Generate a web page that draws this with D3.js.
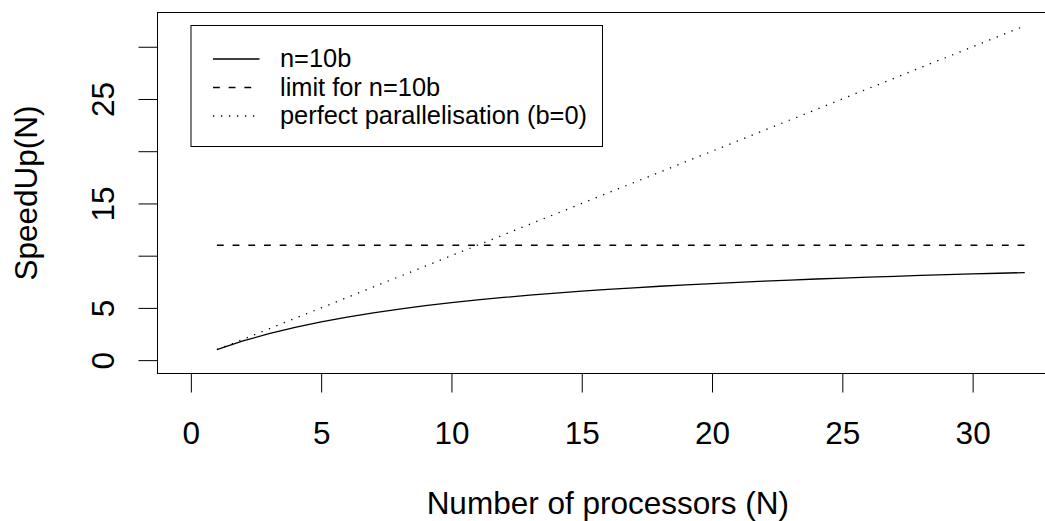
<!DOCTYPE html>
<html><head><meta charset="utf-8">
<script src="https://cdn.jsdelivr.net/npm/d3@7"></script>
<style>html,body{margin:0;padding:0;background:#fff;overflow:hidden}svg{display:block;font-family:"Liberation Sans",Arial,Helvetica,sans-serif}</style>
</head><body><svg id="c" width="1045" height="521"></svg>
<script>
// ---- data ----
const processors = [1,2,3,4,5,6,7,8,9,10,11,12,13,14,15,16,17,18,19,20,21,22,23,24,25,26,27,28,29,30,31,32];
const speedup = [1.000,1.833,2.538,3.143,3.667,4.125,4.529,4.889,5.211,5.500,5.762,6.000,6.217,6.417,6.600,6.769,
                 6.926,7.071,7.207,7.333,7.452,7.563,7.667,7.765,7.857,7.944,8.027,8.105,8.179,8.250,8.317,8.381];
const limitValue = [11,11];
const limitRange = [1,32];
const perfect = [1,2,3,4,5,6,7,8,9,10,11,12,13,14,15,16,17,18,19,20,21,22,23,24,25,26,27,28,29,30,31,32];
const xTickValues = [0,5,10,15,20,25,30];
const yTickValues = [0,5,10,15,20,25,30];
const yTickLabels = ["0","5","","15","","25",""];
const legendLabels = ["n=10b","limit for n=10b","perfect parallelisation (b=0)"];
const xTitle = "Number of processors (N)";
const yTitle = "SpeedUp(N)";

// ---- layout ----
const svg = d3.select("#c");
const L = 157.5, R = 1058.1, T = 12.5, B = 373.5;
const x = d3.scaleLinear().domain([-1.28, 33.28]).range([L, R]);
const y = d3.scaleLinear().domain([-1.28, 33.28]).range([B, T]);
const tickFont = 31.5, titleFont = 31.5, legendFont = 25.4;
const dashed = "6.8,8.9", dotted = "1.3,6.7";

// box
svg.append("rect").attr("x", L).attr("y", T).attr("width", R - L).attr("height", B - T)
  .attr("fill", "none").attr("stroke", "#000").attr("stroke-width", 1);

// x axis
const gx = svg.append("g").attr("transform", `translate(0,${B})`)
  .call(d3.axisBottom(x).tickValues(xTickValues).tickSize(19).tickFormat(d3.format("d")));
gx.attr("font-family", null);
gx.select(".domain").remove();
gx.selectAll("line").attr("stroke", "#000");
gx.selectAll("text").attr("y", 443.5 - B).attr("dy", null)
  .attr("font-size", tickFont).attr("fill", "#000");

// y axis
const gy = svg.append("g").attr("transform", `translate(${L},0)`)
  .call(d3.axisLeft(y).tickValues(yTickValues).tickSize(19).tickFormat((d, i) => yTickLabels[i]));
gy.attr("font-family", null);
gy.select(".domain").remove();
gy.selectAll("line").attr("stroke", "#000");
gy.selectAll("text").attr("x", null).attr("dy", null)
  .attr("text-anchor", "middle")
  .attr("transform", `translate(${113.5 - L},0) rotate(-90)`)
  .attr("font-size", tickFont).attr("fill", "#000");

// titles
svg.append("text").attr("x", (L + R) / 2).attr("y", 514).attr("text-anchor", "middle")
  .attr("font-size", titleFont).attr("fill", "#000").text(xTitle);
svg.append("text").attr("transform", `translate(37,${(T + B) / 2}) rotate(-90)`).attr("text-anchor", "middle")
  .attr("font-size", titleFont).attr("fill", "#000").text(yTitle);

// series
const line = d3.line().x(d => x(d[0])).y(d => y(d[1]));
svg.append("path").datum(processors.map((p, i) => [p, speedup[i]])).attr("d", line)
  .attr("fill", "none").attr("stroke", "#000").attr("stroke-width", 1.3);
svg.append("path").datum(limitRange.map((p, i) => [p, limitValue[i]])).attr("d", line)
  .attr("fill", "none").attr("stroke", "#000").attr("stroke-width", 1.3).attr("stroke-dasharray", dashed);
svg.append("path").datum(processors.map((p, i) => [p, perfect[i]])).attr("d", line)
  .attr("fill", "none").attr("stroke", "#000").attr("stroke-width", 1.3).attr("stroke-dasharray", dotted);

// legend
svg.append("rect").attr("x", 191).attr("y", 25.5).attr("width", 411.5).attr("height", 121)
  .attr("fill", "#fff").attr("stroke", "#000").attr("stroke-width", 1);
const rowY = [59, 87.5, 116];
const styles = [null, dashed, dotted];
legendLabels.forEach((lab, i) => {
  svg.append("line").attr("x1", 213).attr("x2", 259.5).attr("y1", rowY[i]).attr("y2", rowY[i])
    .attr("stroke", "#000").attr("stroke-width", 1.3).attr("stroke-dasharray", styles[i]);
  svg.append("text").attr("x", 280).attr("y", rowY[i] + 8).attr("font-size", legendFont)
    .attr("fill", "#000").text(lab);
});
</script></body></html>
